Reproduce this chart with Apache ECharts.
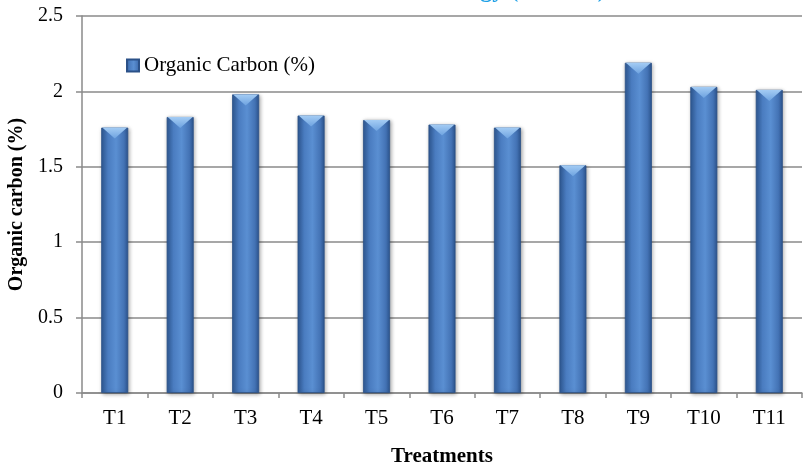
<!DOCTYPE html>
<html>
<head>
<meta charset="utf-8">
<script src="https://cdn.jsdelivr.net/npm/echarts@6/dist/echarts.min.js"></script>
<style>html,body{margin:0;padding:0;background:#fff}#c{width:807px;height:469px}</style>
</head>
<body>
<div id="c"></div>
<script>
var categories = ['T1','T2','T3','T4','T5','T6','T7','T8','T9','T10','T11'];
var organicCarbon = [1.76, 1.83, 1.98, 1.84, 1.81, 1.78, 1.76, 1.51, 2.19, 2.03, 2.01];
var yTicks = [0, 0.5, 1, 1.5, 2, 2.5];
var seriesName = 'Organic Carbon (%)';

var font = 'Liberation Serif';
var chart = echarts.init(document.getElementById('c'));
var barGrad = new echarts.graphic.LinearGradient(0, 0, 1, 0, [
  {offset: 0, color: '#2f5a96'},
  {offset: 0.25, color: '#4a7cc0'},
  {offset: 0.55, color: '#5a8fd2'},
  {offset: 0.85, color: '#4372b4'},
  {offset: 1, color: '#2c5590'}
]);
chart.setOption({
  animation: false,
  graphic: [{
    type: 'text', left: 385, top: -21,
    style: {text: 'Soil biology (SOC %)', fill: '#1ea0e6', font: 'bold 24px "Liberation Serif"'}
  }],
  legend: {
    left: 121, top: 50,
    itemWidth: 12, itemHeight: 12, itemGap: 6,
    icon: 'rect',
    data: [seriesName],
    textStyle: {fontFamily: font, fontSize: 21, color: '#000'}
  },
  grid: {left: 82, right: 5, top: 16, bottom: 76, containLabel: false, outerBoundsMode: 'none'},
  xAxis: {
    type: 'category',
    data: categories,
    name: 'Treatments',
    nameLocation: 'middle',
    nameGap: 53,
    nameTextStyle: {fontFamily: font, fontSize: 21, fontWeight: 'bold', color: '#000'},
    axisLine: {lineStyle: {color: '#8a8a8a', width: 1.5}},
    axisTick: {show: true, length: 5, lineStyle: {color: '#8a8a8a', width: 1.5}},
    axisLabel: {fontFamily: font, fontSize: 21, color: '#000', margin: 15}
  },
  yAxis: {
    type: 'value',
    min: 0, max: 2.5, interval: 0.5,
    name: 'Organic carbon (%)',
    nameLocation: 'middle',
    nameGap: 52,
    nameTextStyle: {fontFamily: font, fontSize: 20, fontWeight: 'bold', color: '#000'},
    axisLine: {show: true, lineStyle: {color: '#8a8a8a', width: 1.5}},
    axisTick: {show: true, length: 6, lineStyle: {color: '#8a8a8a', width: 1.5}},
    axisLabel: {fontFamily: font, fontSize: 20, color: '#000', margin: 19,
      formatter: function (v) { return yTicks.indexOf(v) >= 0 ? String(v) : ''; }},
    splitLine: {lineStyle: {color: '#8a8a8a', width: 1.5}}
  },
  series: [{
    name: seriesName,
    type: 'bar',
    data: organicCarbon,
    barWidth: 27,
    itemStyle: {
      color: barGrad,
      borderColor: '#2b5188', borderWidth: 0.8,
      shadowBlur: 4, shadowColor: 'rgba(0,0,0,0.35)', shadowOffsetX: 1, shadowOffsetY: 1
    }
  }, {
    name: 'cap',
    type: 'pictorialBar',
    data: organicCarbon,
    barGap: '-100%',
    symbol: 'path://M0,0 L10,0 L5,4 Z',
    symbolSize: [25, 11],
    symbolPosition: 'end',
    symbolOffset: [0, 0],
    z: 5,
    itemStyle: {
      color: new echarts.graphic.LinearGradient(0, 0, 0, 1, [
        {offset: 0, color: '#a4ccf4'},
        {offset: 1, color: '#6ea3e0'}
      ])
    },
    tooltip: {show: false}
  }]
});
</script>
</body>
</html>
